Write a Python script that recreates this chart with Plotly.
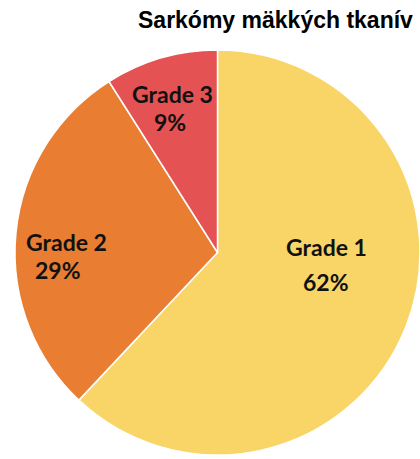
import plotly.graph_objects as go

# Data
labels = ["Grade 1", "Grade 2", "Grade 3"]
values = [62, 29, 9]
title_text = "Sarkómy mäkkých tkanív"

# Styling
colors = ["#F9D466", "#E97D32", "#E45253"]
W, H = 420, 459

fig = go.Figure()
fig.add_trace(go.Pie(
    labels=labels,
    values=values,
    sort=False,
    direction="clockwise",
    rotation=0,
    textinfo="none",
    hoverinfo="label+percent",
    marker=dict(colors=colors, line=dict(color="white", width=1.5)),
    domain=dict(x=[15 / W, 1.0], y=[(H - 455) / H, (H - 50) / H]),
    showlegend=False,
))

# label positions (pixel-based styling, per slice: two lines)
total = sum(values)
pcts = [f"{round(v / total * 100)}%" for v in values]
label_pos = [  # (x_line1, y_line1, x_line2, y_line2) in pixels from top-left
    (326, 247, 326, 282),
    (66, 242, 58, 270),
    (172, 94, 170, 122),
]
anns = []
for lab, pct, (x1, y1, x2, y2) in zip(labels, pcts, label_pos):
    for txt, x, y in ((lab, x1, y1), (pct, x2, y2)):
        anns.append(dict(
            text=f"<b>{txt}</b>", x=x / W, y=1 - y / H, xref="paper", yref="paper",
            showarrow=False, xanchor="center", yanchor="middle",
            font=dict(family="Lato", size=23, color="#111111"),
        ))
anns.append(dict(
    text=f"<b>{title_text}</b>", x=275 / W, y=1 - 20 / H, xref="paper", yref="paper",
    showarrow=False, xanchor="center", yanchor="middle",
    font=dict(family="Liberation Sans, Arial", size=23, color="#000000"),
))

fig.update_layout(
    width=W, height=H,
    margin=dict(l=0, r=0, t=0, b=0),
    paper_bgcolor="white", plot_bgcolor="white",
    annotations=anns,
)
fig.write_html(
    "out.html",
    config={"displayModeBar": False},
    post_script="document.body.style.margin='0';document.body.style.overflow='hidden';",
)
